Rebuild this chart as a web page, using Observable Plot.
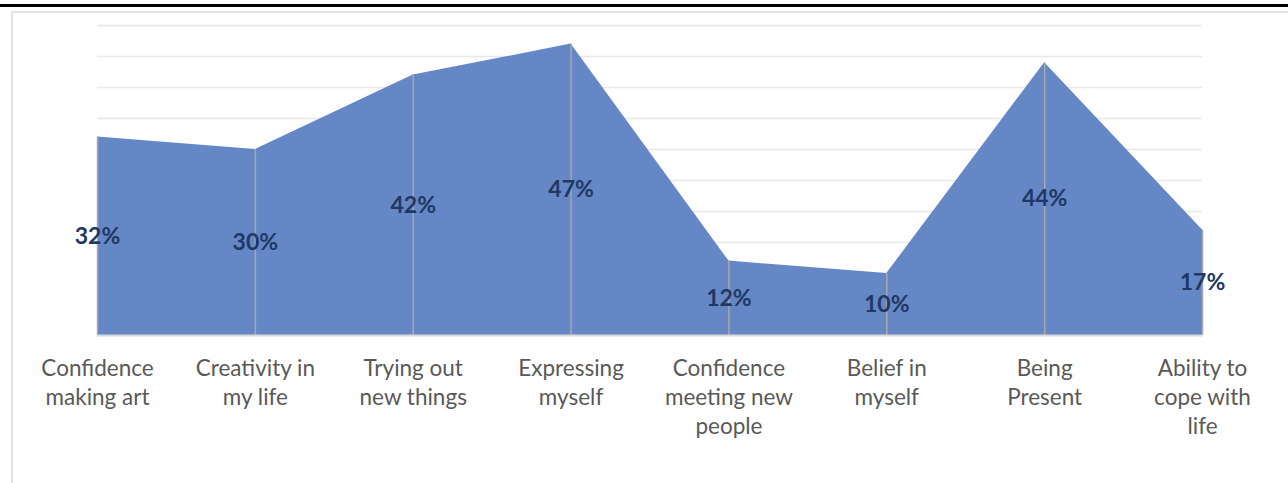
<!DOCTYPE html>
<html>
<head>
<meta charset="utf-8">
<script src="https://cdn.jsdelivr.net/npm/d3@7"></script>
<script src="https://cdn.jsdelivr.net/npm/@observablehq/plot@0.6"></script>
<style>
  html, body { margin: 0; padding: 0; background: #fff; }
  #page { position: relative; width: 1288px; height: 483px; overflow: hidden; }
  #topline { position: absolute; left: 0; top: 4px; width: 1288px; height: 3px; background: #000; }
  #frame { position: absolute; left: 11px; top: 11px; width: 1300px; height: 500px;
           border: 2px solid #e3e3e3; box-sizing: border-box; }
  #chart { position: absolute; left: 0; top: 0; }
</style>
</head>
<body>
<div id="page">
  <div id="topline"></div>
  <div id="frame"></div>
  <div id="chart"></div>
</div>
<script>
// Survey outcomes: share of respondents reporting improvement
const categories = [
  "Confidence making art",
  "Creativity in my life",
  "Trying out new things",
  "Expressing myself",
  "Confidence meeting new people",
  "Belief in myself",
  "Being Present",
  "Ability to cope with life"
];
const tickLabels = [
  "Confidence\nmaking art",
  "Creativity in\nmy life",
  "Trying out\nnew things",
  "Expressing\nmyself",
  "Confidence\nmeeting new\npeople",
  "Belief in\nmyself",
  "Being\nPresent",
  "Ability to\ncope with\nlife"
];
const values = [32, 30, 42, 47, 12, 10, 44, 17];
const gridTicks = [0, 5, 10, 15, 20, 25, 30, 35, 40, 45, 50];

const data = categories.map((c, i) => ({category: c, value: values[i]}));
const labelOf = new Map(categories.map((c, i) => [c, tickLabels[i]]));

const chart = Plot.plot({
  width: 1288,
  height: 483,
  marginLeft: 97,
  marginRight: 86,
  marginTop: 25,
  marginBottom: 148,
  style: {background: "transparent", fontFamily: "Lato, 'Open Sans', sans-serif"},
  x: {type: "point", domain: categories, padding: 0, round: false},
  y: {domain: [0, 50], axis: null},
  marks: [
    Plot.gridY(gridTicks, {stroke: "#e8e8e8", strokeOpacity: 1, strokeWidth: 1.5}),
    Plot.areaY(data, {x: "category", y: "value", fill: "#6587C6", curve: "linear"}),
    Plot.ruleX(data, {x: "category", y1: 0, y2: "value", stroke: "#a8a8a8", strokeWidth: 1.5}),
    Plot.ruleY([0], {stroke: "#d9d9d9", strokeWidth: 2}),
    Plot.text(data, {
      x: "category",
      y: d => d.value / 2,
      text: d => `${d.value}%`,
      fill: "#203864",
      fontSize: 23,
      fontWeight: "bold"
    }),
    Plot.axisX({
      tickSize: 0,
      tickPadding: 20,
      tickFormat: d => labelOf.get(d),
      fontSize: 22.5,
      lineHeight: 1.29,
      fill: "#595959",
      label: null
    })
  ]
});

document.getElementById("chart").append(chart);
</script>
</body>
</html>
